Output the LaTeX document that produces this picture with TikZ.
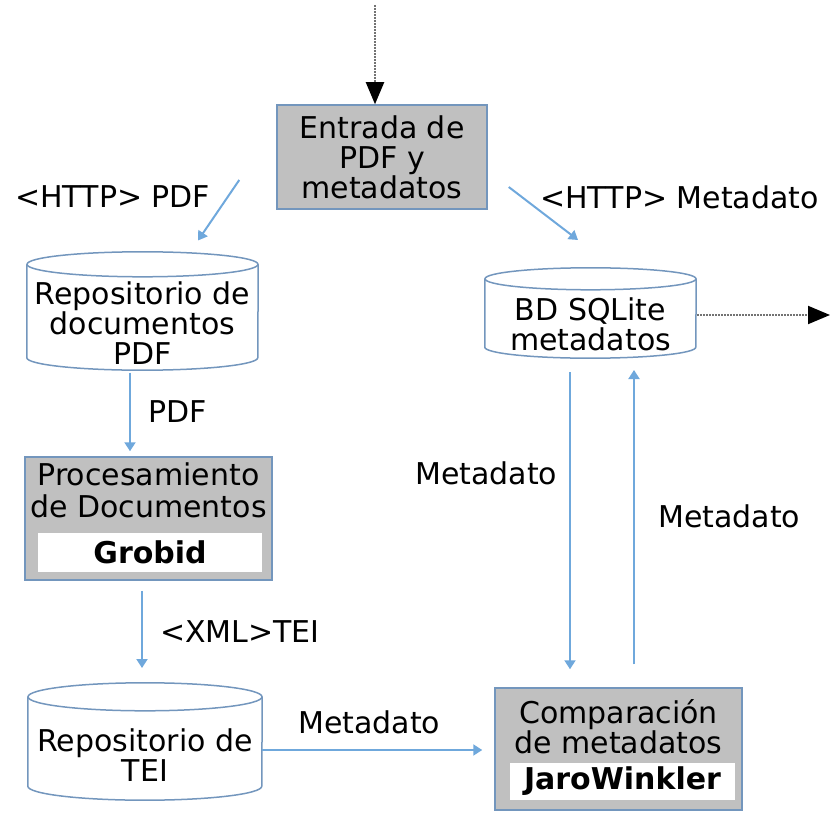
\documentclass[tikz,border=0pt]{standalone}
\usepackage{fontspec}
\setmainfont{DejaVu Sans}
\usetikzlibrary{arrows.meta,positioning,calc}
\definecolor{flowBlue}{HTML}{6FA8DC}
\definecolor{flowEdge}{HTML}{7396BD}
\definecolor{flowGray}{HTML}{C0C0C0}

\begin{document}
\begin{tikzpicture}[
  x=1pt,y=-1pt,
  font=\fontsize{30}{30}\selectfont,
  process/.style={draw=flowEdge,line width=1.5pt,fill=flowGray,align=center,inner sep=0pt},
  store/.style={align=center,inner sep=0pt},
  storeline/.style={draw=flowEdge,line width=1.5pt},
  title/.style={inner sep=0pt,align=center},
  tool/.style={fill=white,inner sep=0pt,font=\fontsize{30}{30}\selectfont\bfseries},
  flow/.style={-{Triangle[length=9pt,width=11pt]},draw=flowBlue,line width=2pt},
  feed/.style={densely dotted,line width=2pt,draw=black!55,-{Triangle[length=22pt,width=18pt,color=black]}},
  tag/.style={inner sep=0pt,anchor=west}
]
\useasboundingbox (0,0) rectangle (830,813);

% nodos principales
\node[process,minimum width=210,minimum height=104] (entrada) at (382,157) {Entrada de\\PDF y\\metadatos};
\node[store,minimum width=231,minimum height=93] (repopdf) at (142.5,323.5) {Repositorio de\\documentos\\PDF};
\node[store,minimum width=211,minimum height=68] (sqlite) at (590.5,324) {BD SQLite\\metadatos};
\node[process,minimum width=247,minimum height=123] (proc) at (148.5,518.5) {};
\node[title] (proctitle) at (148.5,490) {Procesamiento\\[2pt]de Documentos};
\node[tool,minimum width=224,minimum height=39] (grobid) at (150,552.5) {Grobid};
\node[store,minimum width=234,minimum height=89] (repotei) at (145,755.5) {Repositorio de\\TEI};
\node[process,minimum width=247,minimum height=122] (comp) at (618.5,749) {};
\node[title] (comptitle) at (618.5,727) {Comparación\\de metadatos};
\node[tool,minimum width=225,minimum height=37] (jaro) at (622.5,781.5) {JaroWinkler};

% cilindros de almacenamiento
\foreach \n/\w/\r in {repopdf/115.5/12.5,sqlite/105.5/11,repotei/117/14} {
  \draw[storeline] ([yshift=\r pt]\n.north west) -- ([yshift=\r pt]\n.south west)
    arc[start angle=180,end angle=360,x radius=\w pt,y radius=\r pt] -- ([yshift=\r pt]\n.north east);
  \draw[storeline] ([yshift=\r pt]\n.north) ellipse[x radius=\w pt,y radius=\r pt];
}

% entradas y salidas externas
\coordinate (fuente) at (375,5);
\coordinate (destino) at (830,315);
\draw[feed] (fuente) -- (entrada.north -| fuente);
\draw[feed] ($(sqlite.center)+(106.5,-9)$) -- (destino);

% flujo
\draw[flow] ($(entrada.west)+(-37,23)$) -- ($(repopdf.center)+(55.5,-83)$);
\draw[flow] ($(entrada.east)+(21,30)$) -- ($(sqlite.center)+(-12.5,-84)$);
\draw[flow] ($(repopdf.center)+(-12.5,49)$) -- ($(proc.north)+(-18.5,-5)$);
\draw[flow] ($(proc.south)+(-6.5,10)$) -- ($(repotei.center)+(-3,-87.5)$);
\draw[flow] ($(repotei.center)+(117,-5.5)$) -- ($(comp.west)+(-12,1)$);
\draw[flow] ($(sqlite.center)+(-20.5,48)$) -- ($(comp.north)+(-48.5,-18)$);
\draw[flow] ($(comp.north)+(15.5,-23)$) -- ($(sqlite.center)+(43.5,46)$);

% etiquetas
\node[tag] (lhttppdf) at (15,197) {<HTTP> PDF};
\node[tag] (lhttpmeta) at (540,197) {<HTTP> Metadato};
\node[tag] (lpdf) at (148,412) {PDF};
\node[tag] (lxml) at (160,632) {<XML>TEI};
\node[tag] (lmeta1) at (298,722) {Metadato};
\node[tag] (lmeta2) at (415,473) {Metadato};
\node[tag] (lmeta3) at (658,516) {Metadato};
\end{tikzpicture}
\end{document}
